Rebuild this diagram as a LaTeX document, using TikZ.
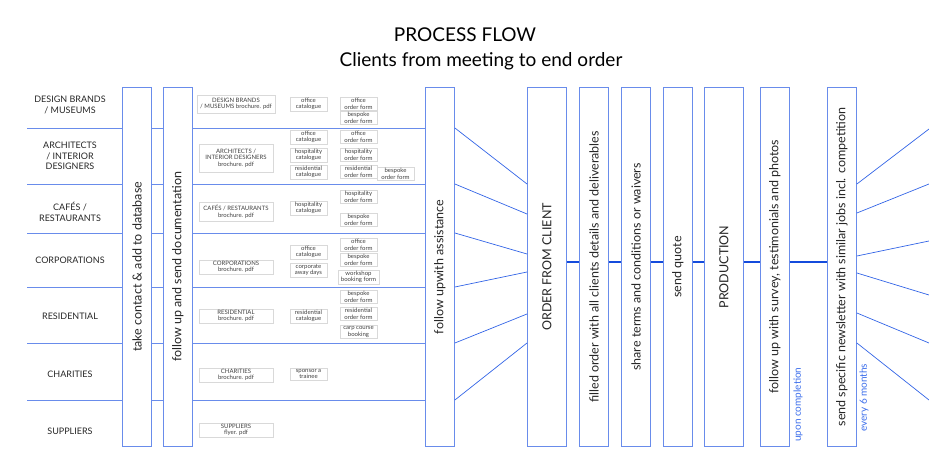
\documentclass[tikz,border=0pt]{standalone}
\usepackage{fontspec}
\setmainfont{Lato}
\begin{document}
\begin{tikzpicture}[x=1pt,y=-1pt,
 every node/.style={inner sep=0pt},
 bx/.style={draw=boxblue,line width=0.9pt,fill=white,minimum width=29pt,minimum height=359pt,anchor=north west},
 vt/.style={rotate=90,font=\fontsize{12.5}{14}\selectfont,text=black!85},
 lbl/.style={font=\fontsize{9}{10.5}\selectfont,align=center,text=black!85},
 sb/.style={draw=black!15,line width=0.5pt,font=\fontsize{6}{6.6}\selectfont,align=center,text=black!75,minimum height=12pt,inner sep=1pt},
 sw/.style={sb,minimum width=37pt},
 ln/.style={draw=boxblue,line width=0.8pt},
 fan/.style={draw=fanblue,line width=0.7pt},
 thick/.style={draw=thickblue,line width=2.6pt},
 note/.style={rotate=90,anchor=west,font=\fontsize{10}{11}\selectfont,text=noteblue}]
\definecolor{boxblue}{RGB}{105,140,235}
\definecolor{fanblue}{RGB}{50,100,230}
\definecolor{thickblue}{RGB}{20,75,220}
\definecolor{noteblue}{RGB}{60,110,235}
\useasboundingbox (0,0) rectangle (929,465);
\node[font=\fontsize{19}{21}\selectfont] (t1) at (465,35) {PROCESS FLOW};
\node[font=\fontsize{19}{21}\selectfont] (t2) at (481,61) {Clients from meeting to end order};
% row lines
\foreach \y [count=\i] in {128,184,233,287,343,400}{
 \coordinate (l\i) at (27,\y); \coordinate (r\i) at (425,\y);
 \draw[ln] (l\i) -- (r\i);}
% boxes
\node[bx] (b1) at (122,87) {}; \node[vt] at (b1.center) {take contact \& add to database};
\node[bx] (b2) at (163,87) {}; \node[vt] at (b2.center) {follow up and send documentation};
\node[bx] (fu) at (425,87) {}; \node[vt] at (fu.center) {follow upwith assistance};
\node[bx,minimum width=39pt] (oc) at (527,87) {}; \node[vt] at (oc.center) {ORDER FROM CLIENT};
\node[bx] (fo) at (579,87) {}; \node[vt] at (fo.center) {filled order with all clients details and deliverables};
\node[bx] (st) at (621,87) {}; \node[vt] at (st.center) {share terms and conditions or waivers};
\node[bx] (sq) at (663,87) {}; \node[vt] at (sq.center) {send quote};
\node[bx,minimum width=39pt] (pr) at (704,87) {}; \node[vt] at (pr.center) {PRODUCTION};
\node[bx] (fs) at (760,87) {}; \node[vt] at (fs.center) {follow up with survey, testimonials and photos};
\node[bx] (nl) at (827,87) {}; \node[vt] at (nl.center) {send specific newsletter with similar jobs incl. competition};
\node[note] (n1) at (798,442) {upon completion};
\node[note] (n2) at (864,432) {every 6 months};
% thick connectors
\draw[thick] (oc.east|-0,262) -- (fo.west|-0,262);
\draw[thick] (fo.east|-0,262) -- (st.west|-0,262);
\draw[thick] (st.east|-0,262) -- (sq.west|-0,262);
\draw[thick] (sq.east|-0,262) -- (pr.west|-0,262);
\draw[thick] (pr.east|-0,262) -- (fs.west|-0,262);
\draw[thick] (fs.east|-0,262) -- (nl.west|-0,262);
% fans
\foreach \a/\b in {128/184,184/214,233/254,287/272,343/314,400/343}
 \draw[fan] (fu.east|-0,\a) -- (oc.west|-0,\b);
\foreach \a/\b in {184/129,213/184,256/241,273/295,313/343,343/400}{
 \coordinate (e\b) at (929,\b);
 \draw[fan] (nl.east|-0,\a) -- (e\b);}
% row labels
\node[lbl] (c1) at (70,105) {DESIGN BRANDS\\/ MUSEUMS};
\node[lbl] (c2) at (70,156) {ARCHITECTS\\/ INTERIOR\\DESIGNERS};
\node[lbl] (c3) at (70,212) {CAFÉS /\\RESTAURANTS};
\node[lbl] (c4) at (70,260) {CORPORATIONS};
\node[lbl] (c5) at (70,316) {RESIDENTIAL};
\node[lbl] (c6) at (70,374) {CHARITIES};
\node[lbl] (c7) at (70,431) {SUPPLIERS};
% brochures
\node[sb,minimum width=78pt,minimum height=18pt] (d1) at (236,104) {DESIGN BRANDS\\/ MUSEUMS brochure. pdf};
\node[sb,minimum width=74pt,minimum height=28pt] (d2) at (236,158) {ARCHITECTS /\\INTERIOR DESIGNERS\\brochure. pdf};
\node[sb,minimum width=74pt,minimum height=19pt] (d3) at (236,212) {CAFÉS / RESTAURANTS\\brochure. pdf};
\node[sb,minimum width=74pt,minimum height=13pt] (d4) at (236,267) {CORPORATIONS\\brochure. pdf};
\node[sb,minimum width=74pt,minimum height=13pt] (d5) at (236,316) {RESIDENTIAL\\brochure. pdf};
\node[sb,minimum width=74pt,minimum height=13pt] (d6) at (236,375) {CHARITIES\\brochure. pdf};
\node[sb,minimum width=74pt,minimum height=14pt] (d7) at (236,430) {SUPPLIERS\\flyer. pdf};
% catalogues
\node[sw] (k1) at (308.5,104) {office\\catalogue};
\node[sw] (k2) at (308.5,137) {office\\catalogue};
\node[sw] (k3) at (308.5,155) {hospitality\\catalogue};
\node[sw] (k4) at (308.5,172) {residential\\catalogue};
\node[sw] (k5) at (308.5,208) {hospitality\\catalogue};
\node[sw] (k6) at (308.5,252) {office\\catalogue};
\node[sw] (k7) at (308.5,270) {corporate\\away days};
\node[sw] (k8) at (308.5,316) {residential\\catalogue};
\node[sw] (k9) at (308.5,374) {sponsor a\\trainee};
% forms
\node[sw] (f1) at (358.5,104) {office\\order form};
\node[sw] (f2) at (358.5,118) {bespoke\\order form};
\node[sw] (f3) at (358.5,137) {office\\order form};
\node[sw] (f4) at (358.5,155) {hospitality\\order form};
\node[sw] (f5) at (358.5,172) {residential\\order form};
\node[sw] (f6) at (395.5,174) {bespoke\\order form};
\node[sw] (f7) at (358.5,197) {hospitality\\order form};
\node[sw] (f8) at (358.5,220) {bespoke\\order form};
\node[sw] (f9) at (358.5,245) {office\\order form};
\node[sw] (f10) at (358.5,260) {bespoke\\order form};
\node[sw,minimum width=41pt] (f11) at (358.5,277) {workshop\\booking form};
\node[sw] (f12) at (358.5,297) {bespoke\\order form};
\node[sw] (f13) at (358.5,314) {residential\\order form};
\node[sw] (f14) at (358.5,332) {carp course\\booking};
\end{tikzpicture}
\end{document}
